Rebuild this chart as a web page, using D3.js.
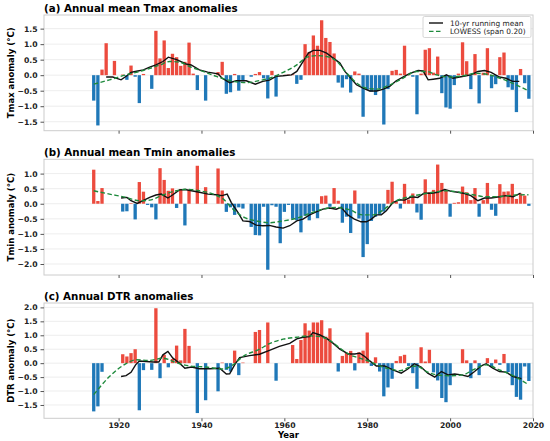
<!DOCTYPE html>
<html>
<head>
<meta charset="utf-8">
<script src="https://cdn.jsdelivr.net/npm/d3@7"></script>
<style>
  body { margin: 0; background: #fff; }
  text { font-family: "DejaVu Sans", sans-serif; }
</style>
</head>
<body>
<div id="chart"></div>
<script>
////////////////////////////////////////////////////////////////////////
/////  data   ////////////////////////////////////
////////////////////////////////////////////////////////////////////////

var firstYear = 1914
var years = d3.range(firstYear, 2020)

var tmaxAnom = [
  -0.82, -1.62, 0.18, 1.03, 0.0, 0.46, 0.0, 0.02, -0.15, 0.31,
  -0.05, -0.9, 0.04, 0.0, -0.44, 1.43, 0.54, 1.12, 0.23, 0.69,
  0.58, 0.3, 0.43, 1.05, 0.05, -0.48, 0.0, -0.82, 0.0, 0.0,
  0.1, 0.43, -0.6, -0.55, 0.04, -0.5, -0.2, 0.0, -0.05, 0.04,
  0.1, -0.1, -0.75, 0.14, -0.69, 0.0, 0.01, 0.02, 0.03, -0.28,
  -0.15, 1.0, 0.75, 1.28, 0.95, 1.77, 1.2, 1.07, 0.7, -0.24,
  -0.4, -0.13, -0.56, 0.12, 0.05, -1.34, -0.47, -0.53, -0.64, -0.42,
  -1.59, -0.45, 0.14, 0.17, 0.05, 0.95, 0.04, -0.05, -1.26, 0.05,
  0.82, 0.87, 0.08, 0.6, -0.58, -1.04, -1.08, -0.32, 0.05, 1.06,
  0.45, -0.45, 0.68, -0.91, 0.08, 0.87, -0.42, -0.29, 0.58, 0.73,
  -0.39, -0.47, -1.19, 0.2, -0.26, -0.76
]

var tminAnom = [
  1.13, 0.09, 0.52, 0.0, 0.0, 0.0, 0.0, -0.26, -0.25, 0.02,
  -0.52, 0.72, 0.4, -0.04, -0.12, -0.52, 1.18, 0.79, 0.43, 0.51,
  -0.14, 0.49, -0.72, 0.46, 0.0, 1.26, 0.0, 0.55, 0.0, 0.0,
  1.17, 0.44, -0.27, -0.12, -0.37, -0.12, -0.16, 0.0, -0.77, -1.04,
  -1.05, -0.1, -2.19, -0.05, -0.1, -1.31, -0.27, -0.04, -0.5, -0.55,
  -0.95, -0.4, -0.55, -0.25, -0.48, 0.25, 0.27, -0.1, 0.52, 0.1,
  -0.63, -0.43, -0.97, 0.44, -0.49, -1.77, -1.34, -0.57, -0.43, -0.37,
  -0.26, 0.46, 0.73, 0.07, -0.16, 0.66, 0.14, 0.34, -0.29, -0.53,
  0.81, 0.38, 0.46, 1.3, 0.69, 0.44, -0.43, 0.03, 0.05, 0.57,
  0.38, 0.12, 0.52, -0.43, 0.12, 0.69, -0.2, -0.4, 0.65, 0.4,
  0.41, 0.66, 0.16, 0.34, 0.27, -0.07
]

var dtrAnom = [
  -1.73, -1.55, -0.31, 0.0, 0.0, 0.0, 0.0, 0.32, 0.24, 0.36,
  0.5, -1.69, -0.25, 0.0, -0.24, 1.97, -0.54, 0.3, -0.15, 0.15,
  0.63, 0.1, 1.23, 0.62, 0.0, -1.79, 0.0, -1.33, 0.0, 0.0,
  -1.01, 0.02, -0.24, -0.3, 0.45, -0.43, 0.02, 0.0, 0.0, 1.12,
  1.19, 0.0, 1.46, 0.0, -0.63, 0.0, 0.0, 0.0, 0.65, 0.15,
  0.83, 1.43, 1.17, 1.46, 1.46, 1.54, 0.95, 1.25, 0.0, -0.3,
  0.26, 0.36, 0.44, -0.26, 0.39, 0.45, 1.1, -0.1, 0.21, -0.3,
  -1.19, -0.87, -0.56, 0.08, 0.25, 0.3, -0.1, -0.36, -0.92, 0.57,
  0.06, 0.48, -0.33, -0.62, -1.25, -1.4, -0.79, 0.0, 0.0, 0.5,
  0.1, -0.54, 0.1, -0.43, 0.0, 0.18, -0.14, 0.13, -0.06, 0.33,
  -0.32, -0.79, -1.21, -1.31, -0.12, -0.64
]

// 10-yr running mean, [year, value]
var tmaxRun = [
  [1917,-0.06],[1918.6,-0.06],[1920.6,-0.15],[1922,-0.02],[1923,0.09],[1924,0.12],
  [1926,0.17],[1927.5,0.26],[1929,0.33],[1930.7,0.44],[1932,0.58],[1934,0.5],
  [1936.3,0.36],[1937.5,0.33],[1939.5,0.17],[1941.5,0.1],[1944,0.04],[1945,-0.1],
  [1946.8,-0.24],[1948.4,-0.18],[1950.8,-0.18],[1953,-0.29],[1954.8,-0.2],[1956.4,-0.16],
  [1958,-0.04],[1959.7,-0.02],[1961.7,0.01],[1963,0.12],[1964.5,0.44],[1965.8,0.71],
  [1967,0.8],[1968.6,0.8],[1970.2,0.71],[1971.8,0.55],[1973.4,0.39],[1974.6,0.12],
  [1975.8,-0.06],[1977.4,-0.31],[1979,-0.42],[1980.6,-0.51],[1982.3,-0.51],[1983.9,-0.45],
  [1985.5,-0.35],[1987,-0.18],[1988.6,-0.06],[1990.3,0.06],[1992.3,0.15],[1993.5,0.14],
  [1994.7,-0.15],[1995.9,-0.13],[1997.5,-0.1],[1999.1,0.01],[2000.7,-0.1],[2002.3,-0.06],
  [2003.9,-0.02],[2005,0.01],[2006.7,0.12],[2008.3,0.15],[2009.9,0.09],[2011.9,-0.06],
  [2013.5,-0.1],[2015.1,-0.2],[2016.7,-0.2]
]
var tminRun = [
  [1920.6,0.19],[1922,0.21],[1923,0.1],[1924.5,0.01],[1925.9,0.1],[1927.5,0.21],
  [1929,0.29],[1930.3,0.32],[1931.9,0.19],[1933,0.29],[1934.7,0.46],[1936,0.47],
  [1937.6,0.43],[1939.5,0.38],[1941.6,0.32],[1943.6,0.3],[1945,0.27],[1946.2,0.32],
  [1947.2,0.04],[1948.8,-0.29],[1950,-0.57],[1951.6,-0.59],[1953.2,-0.71],[1954.8,-0.73],
  [1956.4,-0.72],[1958,-0.77],[1959.7,-0.81],[1961.3,-0.73],[1963,-0.57],[1964.5,-0.51],
  [1966.1,-0.37],[1967.7,-0.27],[1969.3,-0.18],[1970.9,-0.14],[1972.5,-0.18],[1973.7,-0.12],
  [1975.3,-0.37],[1976.9,-0.51],[1978.5,-0.6],[1979.8,-0.6],[1981,-0.51],[1982.2,-0.37],
  [1983.4,-0.37],[1984.6,-0.23],[1986.2,0.04],[1987.8,0.13],[1989,0.12],[1990.7,0.23],
  [1992.2,0.21],[1993.7,0.35],[1995.5,0.35],[1997,0.38],[1998.7,0.47],[2000.3,0.41],
  [2001.9,0.38],[2003.5,0.34],[2005,0.27],[2006.7,0.1],[2008.3,0.19],[2009.9,0.19],
  [2011.9,0.23],[2013.5,0.27],[2015.2,0.23],[2017,0.35]
]
var dtrRun = [
  [1920.6,-0.48],[1921.8,-0.45],[1923,-0.33],[1924.1,-0.06],[1925,0.08],[1926.7,0.06],
  [1928.3,0.04],[1929.7,0.04],[1930.7,0.3],[1931.9,0.42],[1933.1,0.18],[1934.7,0.0],
  [1936,-0.18],[1937.6,-0.14],[1939.5,-0.2],[1942,-0.2],[1944.4,-0.18],[1946,-0.39],
  [1946.8,-0.38],[1948,-0.06],[1949.2,0.2],[1951.6,0.27],[1954,0.32],[1956.4,0.46],
  [1958.8,0.6],[1961.3,0.71],[1963,0.87],[1964.5,0.93],[1966.1,0.95],[1966.9,1.1],
  [1968.6,1.01],[1970.2,0.89],[1971.8,0.71],[1973.4,0.5],[1975.4,0.33],[1977,0.33],
  [1978.2,0.36],[1979.4,0.24],[1980.6,0.08],[1982.2,-0.1],[1984.2,-0.1],[1986.2,-0.24],
  [1988.2,-0.36],[1989.8,-0.21],[1991.4,-0.02],[1993,-0.14],[1994.6,-0.36],[1996.3,-0.5],
  [1997.9,-0.3],[1999.5,-0.42],[2001.1,-0.39],[2002.7,-0.42],[2004.3,-0.48],[2005.9,-0.3],
  [2007.5,-0.1],[2008.7,-0.02],[2010.3,-0.18],[2011.9,-0.3],[2013.5,-0.32],[2015.2,-0.48],
  [2017.2,-0.56]
]

// LOWESS (span 0.20), [year, value]
var tmaxLowess = [
  [1914,-0.29],[1917.8,-0.15],[1921.8,0.01],[1925.9,0.15],[1930,0.33],[1932.3,0.44],
  [1934.7,0.42],[1937.1,0.28],[1940.4,0.12],[1943.6,-0.04],[1946.8,-0.17],[1950.8,-0.24],
  [1954.8,-0.15],[1956.4,-0.1],[1959.7,0.09],[1963,0.33],[1965.5,0.58],[1967.9,0.63],
  [1970.2,0.6],[1972.7,0.44],[1975.1,0.06],[1977.5,-0.26],[1979.9,-0.42],[1982.3,-0.45],
  [1985.5,-0.31],[1988.6,-0.1],[1991.9,0.12],[1994.3,0.12],[1996.7,0.01],[1999.9,-0.06],
  [2003.1,-0.02],[2006.3,0.06],[2009.5,0.01],[2012.7,-0.13],[2015.9,-0.31],[2018.9,-0.5]
]
var tminLowess = [
  [1914,0.43],[1917.8,0.32],[1921.8,0.21],[1925,0.1],[1927.5,0.12],[1930.7,0.29],
  [1933.9,0.43],[1936.3,0.48],[1939.5,0.43],[1942.8,0.32],[1945.2,0.16],[1947.6,-0.18],
  [1950,-0.43],[1953.2,-0.57],[1956.4,-0.63],[1959.7,-0.57],[1963,-0.48],[1966.1,-0.32],
  [1969.3,-0.18],[1972.5,-0.12],[1975.7,-0.2],[1978.9,-0.37],[1981.4,-0.37],[1983.8,-0.21],
  [1986.2,0.04],[1989.4,0.21],[1992.6,0.3],[1995.9,0.38],[1999.1,0.43],[2002.3,0.38],
  [2005.5,0.3],[2008.7,0.23],[2011.9,0.24],[2015.9,0.29],[2018.9,0.3]
]
var dtrLowess = [
  [1914,-1.13],[1917.8,-0.48],[1921.8,-0.02],[1924.2,0.12],[1927.5,0.1],[1930.7,0.18],
  [1933.9,0.02],[1937.1,-0.1],[1941.2,-0.14],[1945.2,-0.21],[1947.6,-0.06],[1950,0.24],
  [1954,0.5],[1956.4,0.7],[1959.7,0.86],[1963,0.93],[1966.1,0.98],[1968.6,0.95],
  [1971,0.81],[1973.4,0.54],[1975.8,0.3],[1978.2,0.18],[1980.6,0.06],[1983,-0.1],
  [1985.5,-0.21],[1987.9,-0.27],[1990.3,-0.14],[1991.9,-0.1],[1994.3,-0.3],[1996.7,-0.42],
  [1999.9,-0.45],[2003.1,-0.42],[2005.5,-0.24],[2008.7,-0.06],[2011.9,-0.24],[2015.2,-0.45],
  [2018.9,-0.77]
]

var titles = ['(a) Annual mean Tmax anomalies', '(b) Annual mean Tmin anomalies', '(c) Annual DTR anomalies']
var ylabels = ['Tmax anomaly (°C)', 'Tmin anomaly (°C)', 'DTR anomaly (°C)']
var yTicks = [
  [-1.5, -1.0, -0.5, 0.0, 0.5, 1.0, 1.5],
  [-2.0, -1.5, -1.0, -0.5, 0.0, 0.5, 1.0],
  [-1.5, -1.0, -0.5, 0.0, 0.5, 1.0, 1.5, 2.0]
]
var xTicks = [1920, 1940, 1960, 1980, 2000, 2020]
var legendText = ['10-yr running mean', 'LOWESS (span 0.20)']

////////////////////////////////////////////////////////////////////////
/////  drawing   ///////////////////////////////////////////////////////
////////////////////////////////////////////////////////////////////////

var W = 550, H = 441
var left = 44, right = 533
var panelTop = [15, 159.3, 303]
var panelBot = [130.7, 275, 418.3]

var posCol = '#ec4b3e'
var negCol = '#1f78b8'
var runCol = '#111111'
var lowCol = '#1e8a3c'
var gridCol = '#e9e9e9'
var frameCol = '#cccccc'

var svg = d3.select('#chart').append('svg')
    .attr('width', W)
    .attr('height', H)

var x = d3.scaleLinear().domain([1902, 2020]).range([left, right])

var bars = [tmaxAnom, tminAnom, dtrAnom]
var runs = [tmaxRun, tminRun, dtrRun]
var lows = [tmaxLowess, tminLowess, dtrLowess]

for (var p = 0; p < 3; p++) {
  var vals = bars[p]
  var ext = d3.extent(vals)
  var pad = (ext[1] - ext[0]) * 0.05
  var y = d3.scaleLinear()
      .domain([ext[0] - pad, ext[1] + pad])
      .range([panelBot[p], panelTop[p]])

  var g = svg.append('g')

  // horizontal grid
  g.selectAll('.grid').data(yTicks[p]).enter().append('line')
    .attr('x1', left).attr('x2', right)
    .attr('y1', d => y(d)).attr('y2', d => y(d))
    .attr('stroke', gridCol).attr('stroke-width', 0.8)

  // bars
  var bw = x(firstYear + 0.8) - x(firstYear)
  g.selectAll('.bar').data(vals).enter().append('rect')
    .attr('x', (d, i) => x(years[i]) - bw / 2)
    .attr('width', bw)
    .attr('y', d => y(Math.max(0, d)))
    .attr('height', d => Math.abs(y(d) - y(0)))
    .attr('fill', d => d >= 0 ? posCol : negCol)

  // running mean
  var line = d3.line().x(d => x(d[0])).y(d => y(d[1]))
  g.append('path')
    .attr('d', line(runs[p]))
    .attr('fill', 'none').attr('stroke', runCol).attr('stroke-width', 1.4)

  // lowess
  var sline = d3.line().x(d => x(d[0])).y(d => y(d[1])).curve(d3.curveMonotoneX)
  g.append('path')
    .attr('d', sline(lows[p]))
    .attr('fill', 'none').attr('stroke', lowCol).attr('stroke-width', 1.4)
    .attr('stroke-dasharray', '4.5,2.5')

  // frame
  g.append('rect')
    .attr('x', left).attr('y', panelTop[p])
    .attr('width', right - left).attr('height', panelBot[p] - panelTop[p])
    .attr('fill', 'none').attr('stroke', frameCol).attr('stroke-width', 1)

  // y axis
  var ya = g.append('g')
    .attr('transform', 'translate(' + left + ',0)')
    .call(d3.axisLeft(y).tickValues(yTicks[p]).tickSize(3.5).tickPadding(3)
      .tickFormat(d => d3.format('.1f')(d).replace('-', '\u2212')))
  ya.select('.domain').remove()
  ya.selectAll('line').attr('stroke', '#555')
  ya.selectAll('text').attr('font-size', 7.7).attr('font-weight', 'bold')
    .attr('fill', '#222').style('font-family', '"DejaVu Sans", sans-serif')

  // x axis
  var xa = g.append('g')
    .attr('transform', 'translate(0,' + panelBot[p] + ')')
    .call(d3.axisBottom(x).tickValues(xTicks).tickSize(3).tickPadding(1.2)
      .tickFormat(p == 2 ? d3.format('d') : ''))
  xa.select('.domain').remove()
  xa.selectAll('line').attr('stroke', '#555')
  xa.selectAll('text').attr('font-size', 7.7).attr('font-weight', 'bold')
    .attr('fill', '#222').style('font-family', '"DejaVu Sans", sans-serif')

  // title
  g.append('text')
    .attr('x', left).attr('y', panelTop[p] - 3)
    .attr('font-size', 10.3).attr('font-weight', 'bold')
    .text(titles[p])

  // y label
  g.append('text')
    .attr('transform', 'translate(14,' + (panelTop[p] + panelBot[p]) / 2 + ') rotate(-90)')
    .attr('text-anchor', 'middle')
    .attr('font-size', 8.5).attr('font-weight', 'bold')
    .text(ylabels[p])
}

// x label
svg.append('text')
  .attr('x', (left + right) / 2).attr('y', 438)
  .attr('text-anchor', 'middle')
  .attr('font-size', 8.5).attr('font-weight', 'bold')
  .text('Year')

// legend
var lg = svg.append('g')
lg.append('rect')
  .attr('x', 423).attr('y', 16.5).attr('width', 108).attr('height', 21)
  .attr('fill', 'white').attr('fill-opacity', 0.85)
  .attr('stroke', '#cccccc').attr('stroke-width', 0.8).attr('rx', 1.5)
var lcols = [runCol, lowCol]
for (var k = 0; k < 2; k++) {
  var ly = 23 + k * 8.4
  lg.append('line')
    .attr('x1', 429).attr('x2', 443).attr('y1', ly).attr('y2', ly)
    .attr('stroke', lcols[k]).attr('stroke-width', 1.4)
    .attr('stroke-dasharray', k == 1 ? '4.5,2.5' : null)
  lg.append('text')
    .attr('x', 450).attr('y', ly + 2.6)
    .attr('font-size', 7.4)
    .attr('fill', '#222')
    .text(legendText[k])
}
</script>
</body>
</html>
